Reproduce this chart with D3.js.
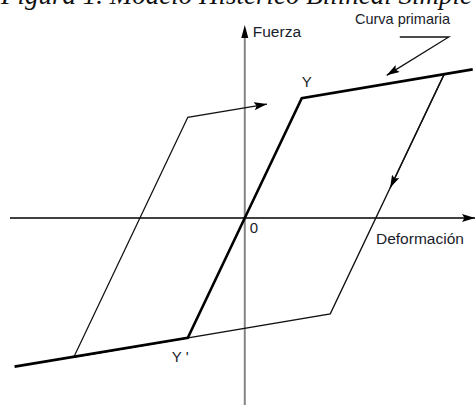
<!DOCTYPE html>
<html>
<head>
<meta charset="utf-8">
<script src="https://cdn.jsdelivr.net/npm/d3@7"></script>
<style>
  html, body { margin: 0; padding: 0; background: #fff; }
  svg { display: block; }
  .lbl { font-family: "Liberation Sans", Arial, sans-serif; fill: #1a1c2a; }
</style>
</head>
<body>
<svg id="chart" width="475" height="405"></svg>
<script>
// Bilinear hysteresis model: deformation (d) vs force (F), yield at (1, 1)
const primaryCurve = [[-4.04, -1.24], [-1, -1], [0, 0], [1, 1], [4.0, 1.24]];
const hysteresisLoop = [[3.5, 1.2], [1.5, -0.8], [-3.0, -1.16], [-1.0, 0.84], [0.39, 0.95]];
const unloadArrow = [[3.5, 1.2], [2.55, 0.25]];
const leaderLine = [[2.72, 1.51], [3.58, 1.51], [2.49, 1.19]];
const pointLabels = [
  { text: "Y", d: 1, F: 1, dx: 0, dy: -11 },
  { text: "Y '", d: -1, F: -1, dx: -16, dy: 24 },
  { text: "0", d: 0, F: 0, dx: 5, dy: 15 }
];
const xDomain = [-4.12, 4.04];
const yDomain = [-1.56, 1.61];

const svg = d3.select("#chart");
const x = d3.scaleLinear().domain(xDomain).range([10, 475]);
const y = d3.scaleLinear().domain(yDomain).range([405, 25]);
const line = d3.line().x(p => x(p[0])).y(p => y(p[1]));

// arrowhead marker
const defs = svg.append("defs");
defs.append("marker")
  .attr("id", "arrow")
  .attr("markerUnits", "userSpaceOnUse")
  .attr("viewBox", "0 0 13 8")
  .attr("refX", 13).attr("refY", 4)
  .attr("markerWidth", 13).attr("markerHeight", 8)
  .attr("orient", "auto")
  .append("path").attr("d", "M0,0 L13,4 L0,8 L2.5,4 Z").attr("fill", "#000");

// figure caption, running off the top edge
svg.append("text")
  .attr("x", 472).attr("y", 4)
  .attr("text-anchor", "end")
  .attr("font-family", "Liberation Serif, Times New Roman, serif")
  .attr("font-style", "italic")
  .attr("font-size", 27)
  .attr("fill", "#111")
  .text("Figura 1. Modelo Histérico Bilineal Simple");

// axes
svg.append("line")
  .attr("x1", x(0)).attr("x2", x(0))
  .attr("y1", y(yDomain[0])).attr("y2", y(yDomain[1]) + 10)
  .attr("stroke", "#858585").attr("stroke-width", 2);
svg.append("path")
  .attr("d", `M${x(0)},${y(yDomain[1])} l-3.5,13 l7,0 Z`)
  .attr("fill", "#000");
svg.append("line")
  .attr("x1", x(xDomain[0])).attr("x2", x(xDomain[1]))
  .attr("y1", y(0)).attr("y2", y(0))
  .attr("stroke", "#000").attr("stroke-width", 1.5)
  .attr("marker-end", "url(#arrow)");

// hysteresis loop
svg.append("path")
  .attr("d", line(hysteresisLoop))
  .attr("fill", "none").attr("stroke", "#111").attr("stroke-width", 1.3)
  .attr("stroke-linejoin", "miter")
  .attr("marker-end", "url(#arrow)");
svg.append("path")
  .attr("d", line(unloadArrow))
  .attr("fill", "none").attr("stroke", "#111").attr("stroke-width", 1.3)
  .attr("marker-end", "url(#arrow)");

// primary curve
svg.append("path")
  .attr("d", line(primaryCurve))
  .attr("fill", "none").attr("stroke", "#000").attr("stroke-width", 2.6)
  .attr("stroke-linejoin", "miter");

// leader for "Curva primaria"
svg.append("path")
  .attr("d", line(leaderLine))
  .attr("fill", "none").attr("stroke", "#111").attr("stroke-width", 1.3)
  .attr("marker-end", "url(#arrow)");

// labels
svg.selectAll("text.pt").data(pointLabels).join("text")
  .attr("class", "lbl pt")
  .attr("x", p => x(p.d) + p.dx).attr("y", p => y(p.F) + p.dy)
  .attr("font-size", 15)
  .text(p => p.text);

svg.append("text").attr("class", "lbl")
  .attr("x", x(0) + 8).attr("y", 37).attr("font-size", 15.5).text("Fuerza");
svg.append("text").attr("class", "lbl")
  .attr("x", 376).attr("y", y(0) + 26).attr("font-size", 15.5).text("Deformación");
svg.append("text").attr("class", "lbl")
  .attr("x", 355).attr("y", 24).attr("font-size", 14.5).text("Curva primaria");
</script>
</body>
</html>
